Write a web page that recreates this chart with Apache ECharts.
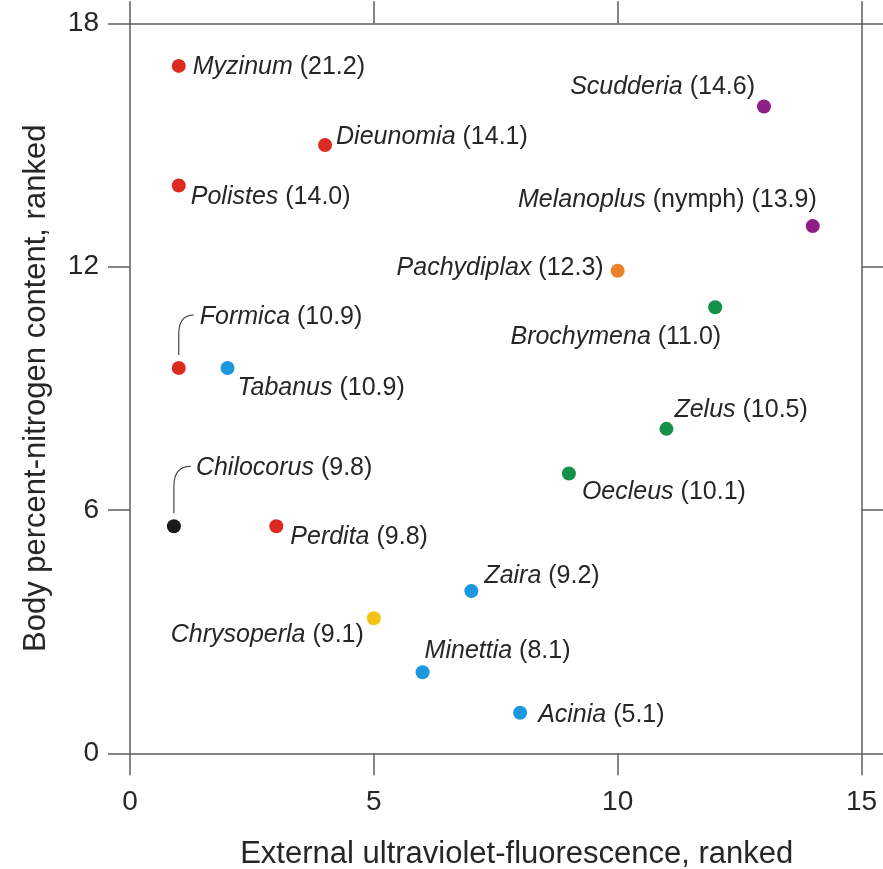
<!DOCTYPE html>
<html><head><meta charset="utf-8">
<script src="https://cdn.jsdelivr.net/npm/echarts@6/dist/echarts.min.js"></script>
<style>html,body{margin:0;padding:0;background:#fff}#c{width:883px;height:869px}</style>
</head><body><div id="c"></div>
<script>
// ---- data ----
const genus = ['Myzinum','Dieunomia','Polistes','Scudderia','Melanoplus','Pachydiplax','Brochymena','Formica','Tabanus','Zelus','Oecleus','Chilocorus','Perdita','Zaira','Chrysoperla','Minettia','Acinia'];
const note = ['','','','','(nymph)','','','','','','','','','','','',''];
const nitrogenPct = [21.2,14.1,14.0,14.6,13.9,12.3,11.0,10.9,10.9,10.5,10.1,9.8,9.8,9.2,9.1,8.1,5.1];
const uvRank = [1,4,1,13,14,10,12,1,2,11,9,0.9,3,7,5,6,8];
const nRank = [16.95,15,14,15.95,13,11.9,11,9.5,9.5,8,6.9,5.6,5.6,4,3.33,2,1];
const order = ['Hymenoptera','Hymenoptera','Hymenoptera','Orthoptera','Orthoptera','Odonata','Hemiptera','Hymenoptera','Diptera','Hemiptera','Hemiptera','Coleoptera','Hymenoptera','Diptera','Neuroptera','Diptera','Diptera'];
const xTicks = [0,5,10,15];
const yTicks = [0,6,12,18];
const xTitle = 'External ultraviolet-fluorescence, ranked';
const yTitle = 'Body percent-nitrogen content, ranked';

// ---- style ----
const FONT = "'Liberation Sans', Arial, Helvetica, sans-serif";
const TXT = '#262626';
const AX = '#5e5e5e';
const orderColor = {Hymenoptera:'#dc2a20', Diptera:'#1b98e0', Hemiptera:'#14914a', Orthoptera:'#8e1f84', Odonata:'#e9822a', Neuroptera:'#f5c315', Coleoptera:'#1a1a1a'};
// label placement relative to the dot: [align, dx, dy]
const labelPlace = [
 ['left',14,1],['left',11,-8],['left',12,12],['right',-9,-19],['right',4,-26],['right',-14,-3],['right',6,30],
 ['left',21,-51],['left',10,20],['left',8,-19],['left',13,19],['left',22,-58],['left',14,11],['left',13,-15],
 ['right',-10,17],['left',2,-21],['left',18,2]];
// leader line shapes (relative to dot): [startDy, bendDy, endDx, endDy]
const leader = {7:[-13,-34,15,-53], 11:[-13,-40,17,-60]};

const data = genus.map((g,i)=>{
  const [al,dx,dy] = labelPlace[i];
  const txt = '{i|'+g+'}' + (note[i] ? ' '+note[i] : '') + ' (' + nitrogenPct[i].toFixed(1) + ')';
  return {
    value:[uvRank[i], nRank[i]],
    itemStyle:{color:orderColor[order[i]], opacity:1},
    label:{show:true, position:'inside', align:al, verticalAlign:'middle', offset:[dx,dy], formatter:txt}
  };
});
const leaderData = Object.keys(leader).map(k=>[uvRank[+k], nRank[+k], +k]);

const axisLine = {show:true, onZero:false, lineStyle:{color:AX, width:1.5}};
const axisTick = {show:true, inside:false, length:22, lineStyle:{color:AX, width:1.5}};

const chart = echarts.init(document.getElementById('c'));
chart.setOption({
  animation:false,
  backgroundColor:'#fff',
  textStyle:{fontFamily:FONT},
  grid:{left:130, right:21.5, top:23.3, bottom:115.7, containLabel:false, outerBoundsMode:'none'},
  xAxis:[
    {type:'value', position:'bottom', min:xTicks[0], max:xTicks[xTicks.length-1], interval:xTicks[1]-xTicks[0],
     axisLine, axisTick, splitLine:{show:false},
     axisLabel:{fontSize:28, color:TXT, margin:35, fontFamily:FONT},
     name:xTitle, nameLocation:'middle', nameGap:86,
     nameTextStyle:{fontSize:31, color:TXT, fontFamily:FONT, padding:[0,0,0,42]}},
    {type:'value', position:'top', min:xTicks[0], max:xTicks[xTicks.length-1], interval:xTicks[1]-xTicks[0],
     axisLine, axisTick, splitLine:{show:false}, axisLabel:{show:false}}
  ],
  yAxis:[
    {type:'value', position:'left', min:yTicks[0], max:yTicks[yTicks.length-1], interval:yTicks[1]-yTicks[0],
     axisLine, axisTick, splitLine:{show:false},
     axisLabel:{fontSize:28, color:TXT, margin:31, fontFamily:FONT, padding:[8,0,0,0]},
     name:yTitle, nameLocation:'middle', nameGap:78,
     nameTextStyle:{fontSize:31, color:TXT, fontFamily:FONT}},
    {type:'value', position:'right', min:yTicks[0], max:yTicks[yTicks.length-1], interval:yTicks[1]-yTicks[0],
     axisLine, axisTick, splitLine:{show:false}, axisLabel:{show:false}}
  ],
  series:[
    {type:'custom', xAxisIndex:0, yAxisIndex:0, silent:true, z:1, data:leaderData,
     renderItem(params, api){
       const p = api.coord([api.value(0), api.value(1)]);
       const s = leader[api.value(2)];
       const x = p[0], y = p[1];
       const ls = {stroke:'#333', lineWidth:1.1, fill:null};
       return {type:'group', children:[
         {type:'line', shape:{x1:x, y1:y+s[0], x2:x, y2:y+s[1]}, style:ls},
         {type:'bezierCurve', shape:{x1:x, y1:y+s[1], cpx1:x, cpy1:y+s[1]+(s[3]-s[1])*0.7,
           cpx2:x+s[2]*0.35, cpy2:y+s[3], x2:x+s[2], y2:y+s[3]}, style:ls}
       ]};
     }},
    {type:'scatter', xAxisIndex:0, yAxisIndex:0, symbol:'circle', symbolSize:14, z:3, data,
     itemStyle:{opacity:1},
     label:{show:true, color:TXT, fontSize:25, fontFamily:FONT, textBorderWidth:0,
       rich:{i:{fontStyle:'italic', fontSize:25, color:TXT, fontFamily:FONT}}},
     emphasis:{disabled:true}}
  ]
});
</script></body></html>
